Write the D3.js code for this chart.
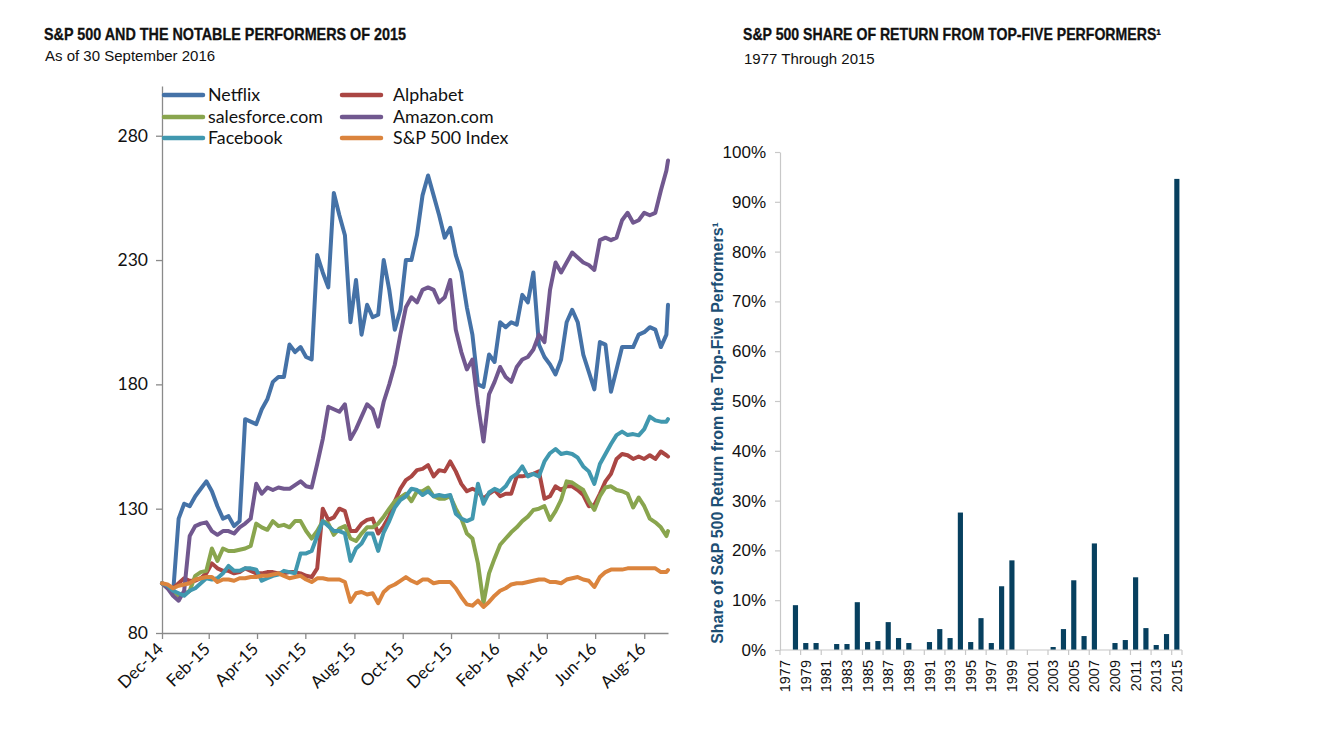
<!DOCTYPE html>
<html><head><meta charset="utf-8">
<script src="https://cdn.jsdelivr.net/npm/d3@7"></script>
<style>body{margin:0;background:#fff;} svg{display:block}</style>
</head><body>
<svg id="c" width="1324" height="730"></svg>
<script>
// ---------- Left chart data (indexed, 31 Dec 2014 = 100) ----------
const dates = ["2014-12-31",
"2015-01-07","2015-01-14","2015-01-21","2015-01-28",
"2015-02-04","2015-02-11","2015-02-18","2015-02-25",
"2015-03-04","2015-03-11","2015-03-18","2015-03-25",
"2015-04-01","2015-04-08","2015-04-15","2015-04-22","2015-04-29",
"2015-05-06","2015-05-13","2015-05-20","2015-05-27",
"2015-06-03","2015-06-10","2015-06-17","2015-06-24",
"2015-07-01","2015-07-08","2015-07-15","2015-07-22","2015-07-29",
"2015-08-05","2015-08-12","2015-08-19","2015-08-26",
"2015-09-02","2015-09-09","2015-09-16","2015-09-23","2015-09-30",
"2015-10-07","2015-10-14","2015-10-21","2015-10-28",
"2015-11-04","2015-11-11","2015-11-18","2015-11-25",
"2015-12-02","2015-12-09","2015-12-16","2015-12-23","2015-12-30",
"2016-01-06","2016-01-13","2016-01-20","2016-01-27",
"2016-02-03","2016-02-10","2016-02-17","2016-02-24",
"2016-03-02","2016-03-09","2016-03-16","2016-03-23","2016-03-30",
"2016-04-06","2016-04-13","2016-04-20","2016-04-27",
"2016-05-04","2016-05-11","2016-05-18","2016-05-25",
"2016-06-01","2016-06-08","2016-06-15","2016-06-22","2016-06-29",
"2016-07-06","2016-07-13","2016-07-20","2016-07-27",
"2016-08-03","2016-08-10","2016-08-17","2016-08-24","2016-08-31",
"2016-09-07","2016-09-14","2016-09-21","2016-09-28","2016-09-30"];

const netflix = [100,99,96,126,132,131,135,138,141,137,
131,126,127,123,125,166,165,164,170,174,
181,183,183,196,193,195,191,190,232,225,
219,257,248,240,205,222,200,212,207,208,
230,218,202,210,230,230,240,256,264,256,
248,239,243,232,225,211,200,180,179,192,
189,205,203,205,204,216,213,225,196,191,
188,184,190,205,210,205,192,185,178,197,
196,177,186,195,195,195,200,201,203,202,
195,200,212];

const alphabet = [100,99,98,100,102,101,101,102,104,108,
106,105,105,104,104.5,106,105,104,104,104.5,
104.5,104,104,104.5,104.5,104,103,102.5,106,130,
125.5,126.5,130,129,121,121,124,125.5,126,120,
123,127,133,138,141.5,143,145.5,146,147.5,143,
145.5,145,149,145,140,137,138,137,134,136,
137.5,135,136,136,143,143,143.5,144,145,134,
135,139,137.5,139,139,137.5,135.5,131,131.5,136,
141,144,150,152,151.5,150,151,150,151.5,150,
153,151.5,151];

const salesforce = [100,98,97,95,95.5,97,103,104.5,105,114,
109,114,113,113,113.5,114,115,124,122.5,121.5,
125,123,123.5,122.5,125,125,121,118,121,125,
124,119.5,122,123,118,117,120,122.5,122.5,124,
126.8,130,133,134.5,136,133,137,137,138.5,135,
134,134,135,130,126,120,118,108,92,104,
110,115.5,118,120.5,122.5,125,126.8,129.5,130,131,
125.5,129,133.5,141,140.5,139,137.5,133,129.5,135,
138.5,139,137.5,137,136,130.5,134.5,131,126,124.5,
122.5,119,121];

const amazon = [100,98,95,93,97,119,123,124,124.5,121,
119.5,121,121,120,122.5,124,126,140,136,138.5,
137.5,138.5,138,138,139.5,141,139,138.5,148,158,
171,170,169,172,158,162,167,172,170,163,
173,180,188,200,211,215,213,218,219,218,
213,215,222,202,193,186,190,172,157,176,
181,187,183,181,187,190,191,194,200,197,
218,229,225,229,233,231,229,228,226,238,
239,238,239,246,249,245,246,249,248,249,
258,266,270];

const facebook = [100,99,97,96,95,97,98,100,102,101.5,
102,104,107,105,105,106,106,105.5,101,102,
103,103.5,105,104.5,104,112,112,113,119,125,
123,121,121,120,109,114,116,120,120,113,
120.5,125,130.5,133.5,135,138,137.5,135.5,137,135,
135.5,135,135.5,128,126,125,126,140,132,136.5,
138,137,139,142.5,144,147,143,144,143,149,
152.3,154,152,152.5,152,150.5,147,145,140,148,
152,156,159.6,161,159.6,160,159.5,162,167,165.5,
165,165,166];

const sp500 = [100,99.5,98,99,99.5,100,101.5,102,102.5,102.5,
100.5,101.5,101.5,101,102,102,102.5,102.5,103,103,
103.5,104,103,102,102.5,103,101.5,100.5,102,102,
101.5,101.5,101.5,100.5,92.5,96,96.5,95.5,96,92,
96.5,98.5,99.5,101,102.5,101,100,101.5,101.5,100,
100.5,100.5,100.5,98,94.5,91.5,91,93,90.5,92.5,
95,97,98,99.5,100,100,100.5,101,101.5,101.5,
100.5,100.5,100,101.5,102,102.5,101.5,101,98.5,102.5,
104.5,105.5,105.5,105.5,106,106,106,106,106,106,
104.5,104.5,105.3];

const seriesNames = ["Netflix","Alphabet","salesforce.com","Amazon.com","Facebook","S&P 500 Index"];
const seriesColors = ["#4572A7","#AA4643","#89A54E","#71588F","#4198AF","#DB843D"];
const seriesValues = [netflix, alphabet, salesforce, amazon, facebook, sp500];

const xTickDates = ["2014-12-31","2015-02-28","2015-04-30","2015-06-30","2015-08-31","2015-10-31",
                    "2015-12-31","2016-02-29","2016-04-30","2016-06-30","2016-08-31"];
const xTickLabels = ["Dec-14","Feb-15","Apr-15","Jun-15","Aug-15","Oct-15","Dec-15","Feb-16","Apr-16","Jun-16","Aug-16"];
const yTicksLeft = [80,130,180,230,280];

// ---------- Right chart data ----------
const years = ["1977","1978","1979","1980","1981","1982","1983","1984","1985","1986",
"1987","1988","1989","1990","1991","1992","1993","1994","1995","1996",
"1997","1998","1999","2000","2001","2002","2003","2004","2005","2006",
"2007","2008","2009","2010","2011","2012","2013","2014","2015"];
const topFiveShare = [0,0.090,0.014,0.014,0,0.012,0.012,0.096,0.016,0.018,
0.056,0.024,0.014,0,0.016,0.042,0.024,0.276,0.016,0.064,
0.014,0.128,0.180,0,0,0,0.006,0.042,0.140,0.028,
0.214,0,0.014,0.020,0.146,0.044,0.010,0.032,0.946];
const yearLabels = ["1977","1979","1981","1983","1985","1987","1989","1991","1993","1995",
"1997","1999","2001","2003","2005","2007","2009","2011","2013","2015"];
const yTicksRight = [0,0.1,0.2,0.3,0.4,0.5,0.6,0.7,0.8,0.9,1.0];

// ---------- Drawing ----------
const svg = d3.select("#c");
const parse = d3.timeParse("%Y-%m-%d");
const narrow = "'Liberation Sans Narrow','Arial Narrow','Liberation Sans',Arial,sans-serif";
const arial = "'Liberation Sans',Arial,Helvetica,sans-serif";
const calibri = "Lato,'Open Sans',sans-serif";

// titles
svg.append("text").attr("x",44).attr("y",40).attr("font-family",narrow).attr("font-weight","bold")
  .attr("font-size",16.5).attr("textLength",362).attr("lengthAdjust","spacingAndGlyphs").attr("fill","#111")
  .attr("stroke","#111").attr("stroke-width",0.3)
  .text("S&P 500 AND THE NOTABLE PERFORMERS OF 2015");
svg.append("text").attr("x",45).attr("y",61).attr("font-family",arial).attr("font-size",15).attr("fill","#111")
  .text("As of 30 September 2016");
svg.append("text").attr("x",743).attr("y",40).attr("font-family",narrow).attr("font-weight","bold")
  .attr("font-size",16.5).attr("textLength",418).attr("lengthAdjust","spacingAndGlyphs").attr("fill","#111")
  .attr("stroke","#111").attr("stroke-width",0.3)
  .text("S&P 500 SHARE OF RETURN FROM TOP-FIVE PERFORMERS¹");
svg.append("text").attr("x",744).attr("y",64).attr("font-family",arial).attr("font-size",15).attr("fill","#111")
  .text("1977 Through 2015");

// left chart
const x = d3.scaleTime().domain([parse("2014-12-31"), parse("2016-09-30")]).range([162, 668]);
const y = d3.scaleLinear().domain([80, 300]).range([633, 86]);

const gy = svg.append("g").attr("transform","translate(162,0)")
  .call(d3.axisLeft(y).tickValues(yTicksLeft).tickSize(6).tickSizeOuter(0).tickPadding(8));
gy.select(".domain").attr("stroke","#8a8a8a").attr("stroke-width",1.3);
gy.selectAll(".tick line").attr("stroke","#8a8a8a").attr("stroke-width",1.3);
gy.selectAll(".tick text").attr("font-family",calibri).attr("font-size",17.5).attr("fill","#111");

const gx = svg.append("g").attr("transform","translate(0,633)")
  .call(d3.axisBottom(x).tickValues(xTickDates.map(parse)).tickFormat((d,i)=>xTickLabels[i]).tickSize(6).tickSizeOuter(0));
gx.select(".domain").attr("stroke","#8a8a8a").attr("stroke-width",1.3);
gx.selectAll(".tick line").attr("stroke","#8a8a8a").attr("stroke-width",1.3);
gx.selectAll(".tick text").attr("font-family",calibri).attr("font-size",17).attr("fill","#111")
  .attr("text-anchor","end").attr("dy",null).attr("y",0)
  .attr("transform","translate(2,17) rotate(-45)");

const line = d3.line().x((d,i)=>x(parse(dates[i]))).y(d=>y(d));
seriesValues.forEach((vals,k)=>{
  svg.append("path").datum(vals).attr("d",line).attr("fill","none")
    .attr("stroke",seriesColors[k]).attr("stroke-width",4)
    .attr("stroke-linejoin","round").attr("stroke-linecap","round");
});

// legend
const legX = [164, 342], legTextX = [208, 393], legY = [95, 117, 138];
seriesNames.forEach((n,k)=>{
  const col = k % 2, row = Math.floor(k/2);
  svg.append("line").attr("x1",legX[col]).attr("x2",legX[col]+39).attr("y1",legY[row]).attr("y2",legY[row])
    .attr("stroke",seriesColors[k]).attr("stroke-width",4.5).attr("stroke-linecap","round");
  svg.append("text").attr("x",legTextX[col]).attr("y",legY[row]).attr("dy","0.35em")
    .attr("font-family",calibri).attr("font-size",17.8).attr("fill","#111").text(n);
});

// right chart
const xb = d3.scaleBand().domain(years).range([780, 1182]).paddingInner(0.5).paddingOuter(0.25);
const yb = d3.scaleLinear().domain([0,1]).range([650, 152]);

const gyb = svg.append("g").attr("transform","translate(780,0)")
  .call(d3.axisLeft(yb).tickValues(yTicksRight).tickFormat(d3.format(".0%")).tickSize(5).tickSizeOuter(0).tickPadding(9));
gyb.select(".domain").attr("stroke","#c8c8c8").attr("stroke-width",1.2);
gyb.selectAll(".tick line").attr("stroke","#c8c8c8").attr("stroke-width",1.2);
gyb.selectAll(".tick text").attr("font-family",arial).attr("font-size",17).attr("fill","#111");

svg.append("g").selectAll("rect").data(years).join("rect")
  .attr("x",d=>xb(d)).attr("width",xb.bandwidth())
  .attr("y",(d,i)=>yb(topFiveShare[i])).attr("height",(d,i)=>yb(0)-yb(topFiveShare[i]))
  .attr("fill","#07405f");

// x axis baseline and ticks at every second category boundary
svg.append("line").attr("x1",xb.range()[0]).attr("x2",xb.range()[1]).attr("y1",yb(0)).attr("y2",yb(0))
  .attr("stroke","#c8c8c8").attr("stroke-width",1.2);
const bounds = years.map((d,i)=>i).filter(i=>i%2===0).concat([years.length]);
svg.append("g").selectAll("line").data(bounds).join("line")
  .attr("x1",i=>xb.range()[0]+i*xb.step()).attr("x2",i=>xb.range()[0]+i*xb.step())
  .attr("y1",yb(0)).attr("y2",yb(0)+5).attr("stroke","#c8c8c8").attr("stroke-width",1.2);
svg.append("g").selectAll("text").data(yearLabels).join("text")
  .attr("transform",d=>`translate(${xb(d)+xb.bandwidth()/2},${yb(0)+10}) rotate(-90)`)
  .attr("text-anchor","end").attr("dy","0.35em")
  .attr("font-family",arial).attr("font-size",14.5).attr("fill","#111").text(d=>d);

svg.append("text").attr("transform","translate(723,433) rotate(-90)").attr("text-anchor","middle")
  .attr("font-family",arial).attr("font-weight","bold").attr("font-size",16).attr("fill","#1d4f74")
  .text("Share of S&P 500 Return from the Top-Five Performers¹");
</script>
</body></html>
